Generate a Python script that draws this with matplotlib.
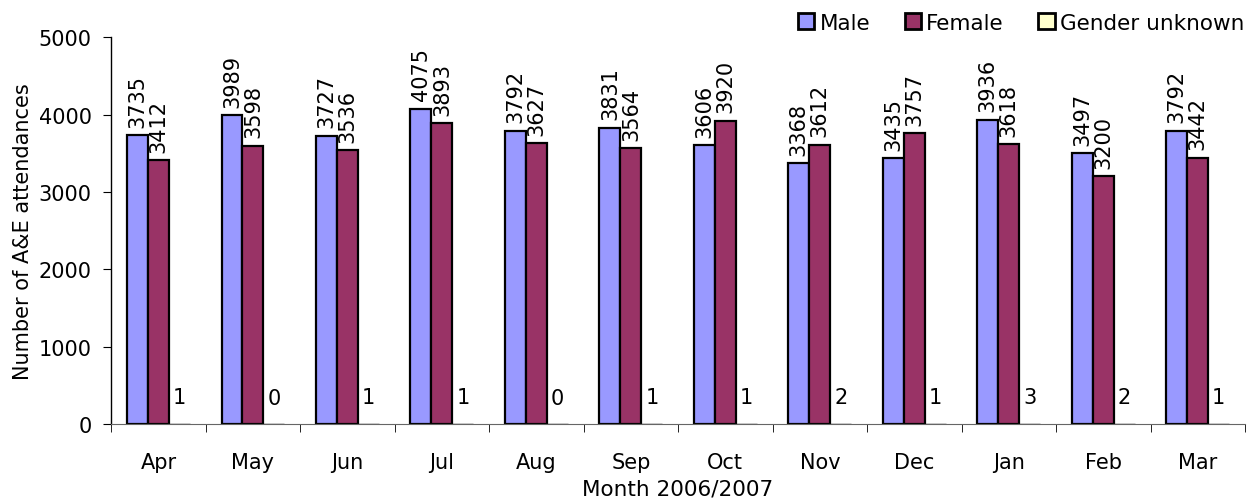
import matplotlib
matplotlib.use("Agg")
import matplotlib.pyplot as plt
import numpy as np

plt.rcParams["font.family"] = ["DejaVu Sans"]

months = ["Apr", "May", "Jun", "Jul", "Aug", "Sep", "Oct", "Nov", "Dec", "Jan", "Feb", "Mar"]
male = [3735, 3989, 3727, 4075, 3792, 3831, 3606, 3368, 3435, 3936, 3497, 3792]
female = [3412, 3598, 3536, 3893, 3627, 3564, 3920, 3612, 3757, 3618, 3200, 3442]
unknown = [1, 0, 1, 1, 0, 1, 1, 2, 1, 3, 2, 1]

series = [
    ("Male", male, "#9999FF", True),
    ("Female", female, "#993366", True),
    ("Gender unknown", unknown, "#FFFFCC", False),
]

FS = 15

fig = plt.figure(figsize=(12.5, 5.02), dpi=100)
ax = fig.add_axes([0.089, 0.153, 0.907, 0.771])

x = np.arange(len(months))
w = 0.222
for i, (name, vals, color, rotated) in enumerate(series):
    pos = x + (i - 1) * w
    lw = 1.6 if rotated else 1.0
    ax.bar(pos, vals, width=w, color=color, edgecolor="black", linewidth=lw, label=name)
    for p, v in zip(pos, vals):
        if rotated:
            ax.annotate(str(v), (p, v), xytext=(0, 6), textcoords="offset points",
                        rotation=90, ha="center", va="bottom", fontsize=FS,
                        annotation_clip=False)
        else:
            ax.annotate(str(v), (p, v), xytext=(0, 12), textcoords="offset points",
                        ha="center", va="bottom", fontsize=FS)

ax.set_xlim(-0.5, len(months) - 0.5)
ax.set_ylim(0, 5000)
ax.set_yticks(range(0, 5001, 1000))
ax.set_xticks(x)
ax.set_xticklabels(months, fontsize=FS)
ax.set_xticks(np.arange(-0.5, len(months), 1), minor=True)
ax.tick_params(axis="x", which="major", length=0, pad=20)
ax.tick_params(axis="x", which="minor", length=6, direction="out")
ax.tick_params(axis="y", labelsize=FS, length=6, direction="out", pad=8)
ax.spines["top"].set_visible(False)
ax.spines["right"].set_visible(False)
ax.spines["left"].set_linewidth(1.0)
ax.spines["bottom"].set_color("#666666")
ax.set_xlabel("Month 2006/2007", fontsize=15.5, labelpad=5)
ax.set_ylabel("Number of A&E attendances", fontsize=FS, labelpad=4)

leg = ax.legend(loc="upper right", bbox_to_anchor=(1.007, 1.085), ncol=3, frameon=False,
                fontsize=15.5, handlelength=0.75, handleheight=0.75, handletextpad=0.25,
                columnspacing=1.6, borderaxespad=0)
for h in leg.legend_handles:
    h.set_linewidth(2.0)

fig.savefig("out.png", dpi=100)
